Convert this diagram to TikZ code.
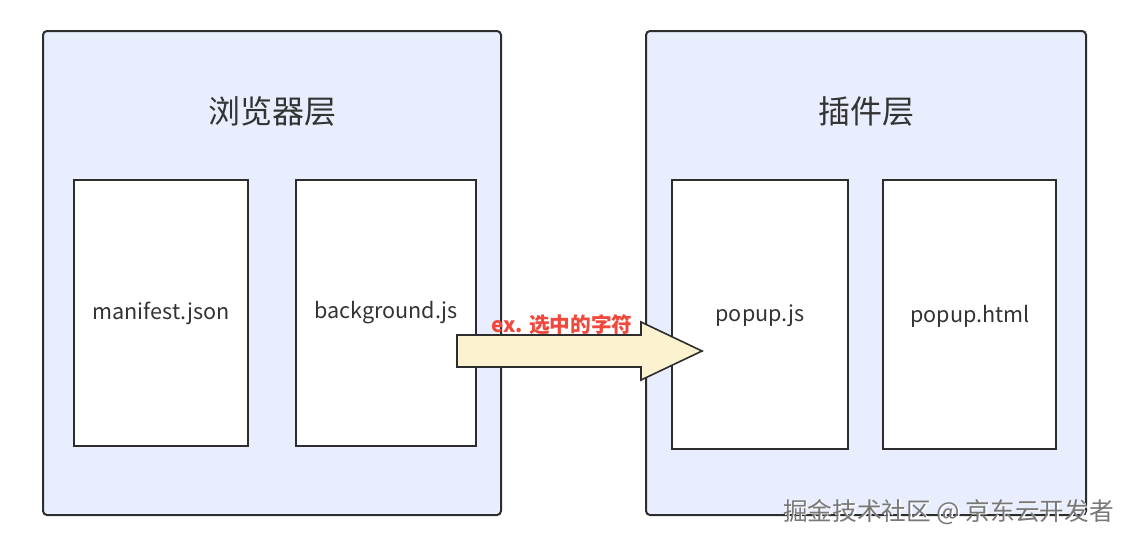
\documentclass[tikz,border=0pt]{standalone}
\usepackage{fontspec}
\newfontfamily\cjk{Noto Sans CJK SC}
\usepackage{tikz}
\usetikzlibrary{calc}
\definecolor{layerfill}{RGB}{232,238,253}
\definecolor{linegray}{RGB}{45,45,45}
\definecolor{txtgray}{RGB}{51,51,51}
\definecolor{arrowfill}{RGB}{253,242,208}
\definecolor{labelred}{RGB}{240,72,60}
\definecolor{markgray}{RGB}{120,120,120}

\begin{document}
\begin{tikzpicture}[x=0.75pt,y=-0.75pt,
	layer/.style={draw=linegray,line width=1.5pt,fill=layerfill,rounded corners=3pt},
	file/.style={draw=linegray,line width=1.5pt,fill=white},
	title/.style={font=\cjk\fontsize{24}{28}\selectfont,text=txtgray},
	fname/.style={font=\cjk\fontsize{16.2}{19}\selectfont,text=txtgray}]
	\useasboundingbox (0,0) rectangle (1134,543);

	\draw[layer] (43,31) rectangle (501,515);
	\draw[layer] (646,31) rectangle (1086,515);

	\node [title](Browser) at (272,111) {浏览器层};
	\node [title](Plugin) at (866,111) {插件层};

	\draw[file] (74,180) rectangle (248,446);
	\draw[file] (296,180) rectangle (476,446);
	\draw[file] (672,180) rectangle (848,449);
	\draw[file] (883,180) rectangle (1056,449);

	\node [fname](Manifest) at (161,313) {manifest.json};
	\node [fname](Background) at (386,313) {background.js};
	\node [fname](Popup) at (760,316) {popup.js};
	\node [fname](PopupHtml) at (970,316) {popup.html};

	\coordinate (From) at (457,351);
	\coordinate (To) at (702,351);
	\draw [draw=linegray,line width=1.2pt,fill=arrowfill,line join=miter]
		($(From)+(0,-16)$) -- ($(To)+(-61,-16)$) -- ($(To)+(-61,-29)$) -- (To)
		-- ($(To)+(-61,29)$) -- ($(To)+(-61,16)$) -- ($(From)+(0,16)$) -- cycle;

	\node [labelred,font=\cjk\bfseries\fontsize{15.5}{18}\selectfont](Sel) at (562,325) {ex. 选中的字符};

	\node [white,font=\cjk\fontsize{18.5}{22}\selectfont](MarkShadow) at (950,513.5) {掘金技术社区 @ 京东云开发者};
	\node [markgray,font=\cjk\fontsize{18.5}{22}\selectfont](Mark) at (948.5,512) {掘金技术社区 @ 京东云开发者};
\end{tikzpicture}
\end{document}
